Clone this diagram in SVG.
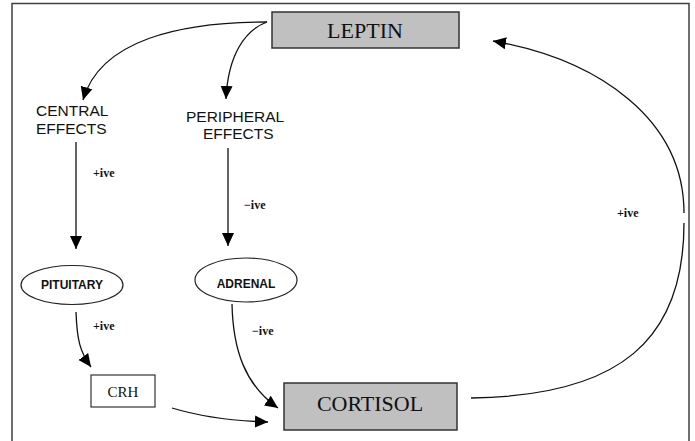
<svg xmlns="http://www.w3.org/2000/svg" width="695" height="441" viewBox="0 0 695 441">
<style>
.frame{fill:none;stroke:#404040;stroke-width:1.5}
.box{fill:#c0c0c0;stroke:#333;stroke-width:1.5}
.wbox{fill:#fff;stroke:#333;stroke-width:1.2}
.ell{fill:#fff;stroke:#222;stroke-width:1.2}
.big{font-family:"Liberation Serif",serif;font-size:22px;fill:#111;text-anchor:middle}
.crh{font-family:"Liberation Serif",serif;font-size:15px;fill:#111;text-anchor:middle}
.sans{font-family:"Liberation Sans",Arial,sans-serif;font-size:15.5px;fill:#111}
.bold{font-family:"Liberation Sans",Arial,sans-serif;font-size:12px;font-weight:bold;fill:#111;text-anchor:middle}
.lbl{font-family:"Liberation Serif",serif;font-size:12px;font-weight:bold;fill:#111}
.conn path{fill:none;stroke:#111;stroke-width:1.3}
</style>
<defs>
<marker id="ah" markerUnits="userSpaceOnUse" markerWidth="14" markerHeight="14" viewBox="0 0 14 14" refX="13" refY="7" orient="auto">
<path d="M0,1 L13,7 L0,13 Z" fill="#000"/>
</marker>
</defs>
<rect width="695" height="441" fill="#fff"/>
<path class="frame" d="M12,441 V3.5 H689 V441"/>

<g class="conn">
<path d="M267,22 C180,22 100,40 83,100" marker-end="url(#ah)"/>
<path d="M267,22 C245,30 228,55 226,99" marker-end="url(#ah)"/>
<path d="M76,142 V249" marker-end="url(#ah)"/>
<path d="M228,148 V246" marker-end="url(#ah)"/>
<path d="M76,312 C77,340 80,352 91,367" marker-end="url(#ah)"/>
<path d="M232,304 C233,350 245,385 278,408" marker-end="url(#ah)"/>
<path d="M172,408 C205,418 235,421 268,422" marker-end="url(#ah)"/>
<path d="M471,398 C620,396 684,340 684,223"/>
<path d="M684,213 C684,120 600,60 493,41" marker-end="url(#ah)"/>
</g>

<g id="leptin">
<rect class="box" x="272" y="12" width="187" height="36"/>
<text class="big" x="365" y="38">LEPTIN</text>
</g>
<g id="cortisol">
<rect class="box" x="284" y="383" width="173" height="47"/>
<text class="big" x="370" y="411">CORTISOL</text>
</g>
<g id="crh">
<rect class="wbox" x="91" y="375" width="64" height="32"/>
<text class="crh" x="123" y="397">CRH</text>
</g>
<g id="central">
<text class="sans" x="36" y="116">CENTRAL</text>
<text class="sans" x="36" y="134">EFFECTS</text>
</g>
<g id="peripheral">
<text class="sans" x="186" y="122">PERIPHERAL</text>
<text class="sans" x="203" y="139">EFFECTS</text>
</g>
<g id="pituitary">
<ellipse class="ell" cx="72" cy="285" rx="51" ry="19.5"/>
<text class="bold" x="72" y="289">PITUITARY</text>
</g>
<g id="adrenal">
<ellipse class="ell" cx="246" cy="280" rx="51" ry="22"/>
<text class="bold" x="246" y="288">ADRENAL</text>
</g>
<g id="labels">
<text class="lbl" x="93" y="177">+ive</text>
<text class="lbl" x="244" y="209">−ive</text>
<text class="lbl" x="93" y="330">+ive</text>
<text class="lbl" x="252" y="335">−ive</text>
<text class="lbl" x="617" y="217">+ive</text>
</g>
</svg>
